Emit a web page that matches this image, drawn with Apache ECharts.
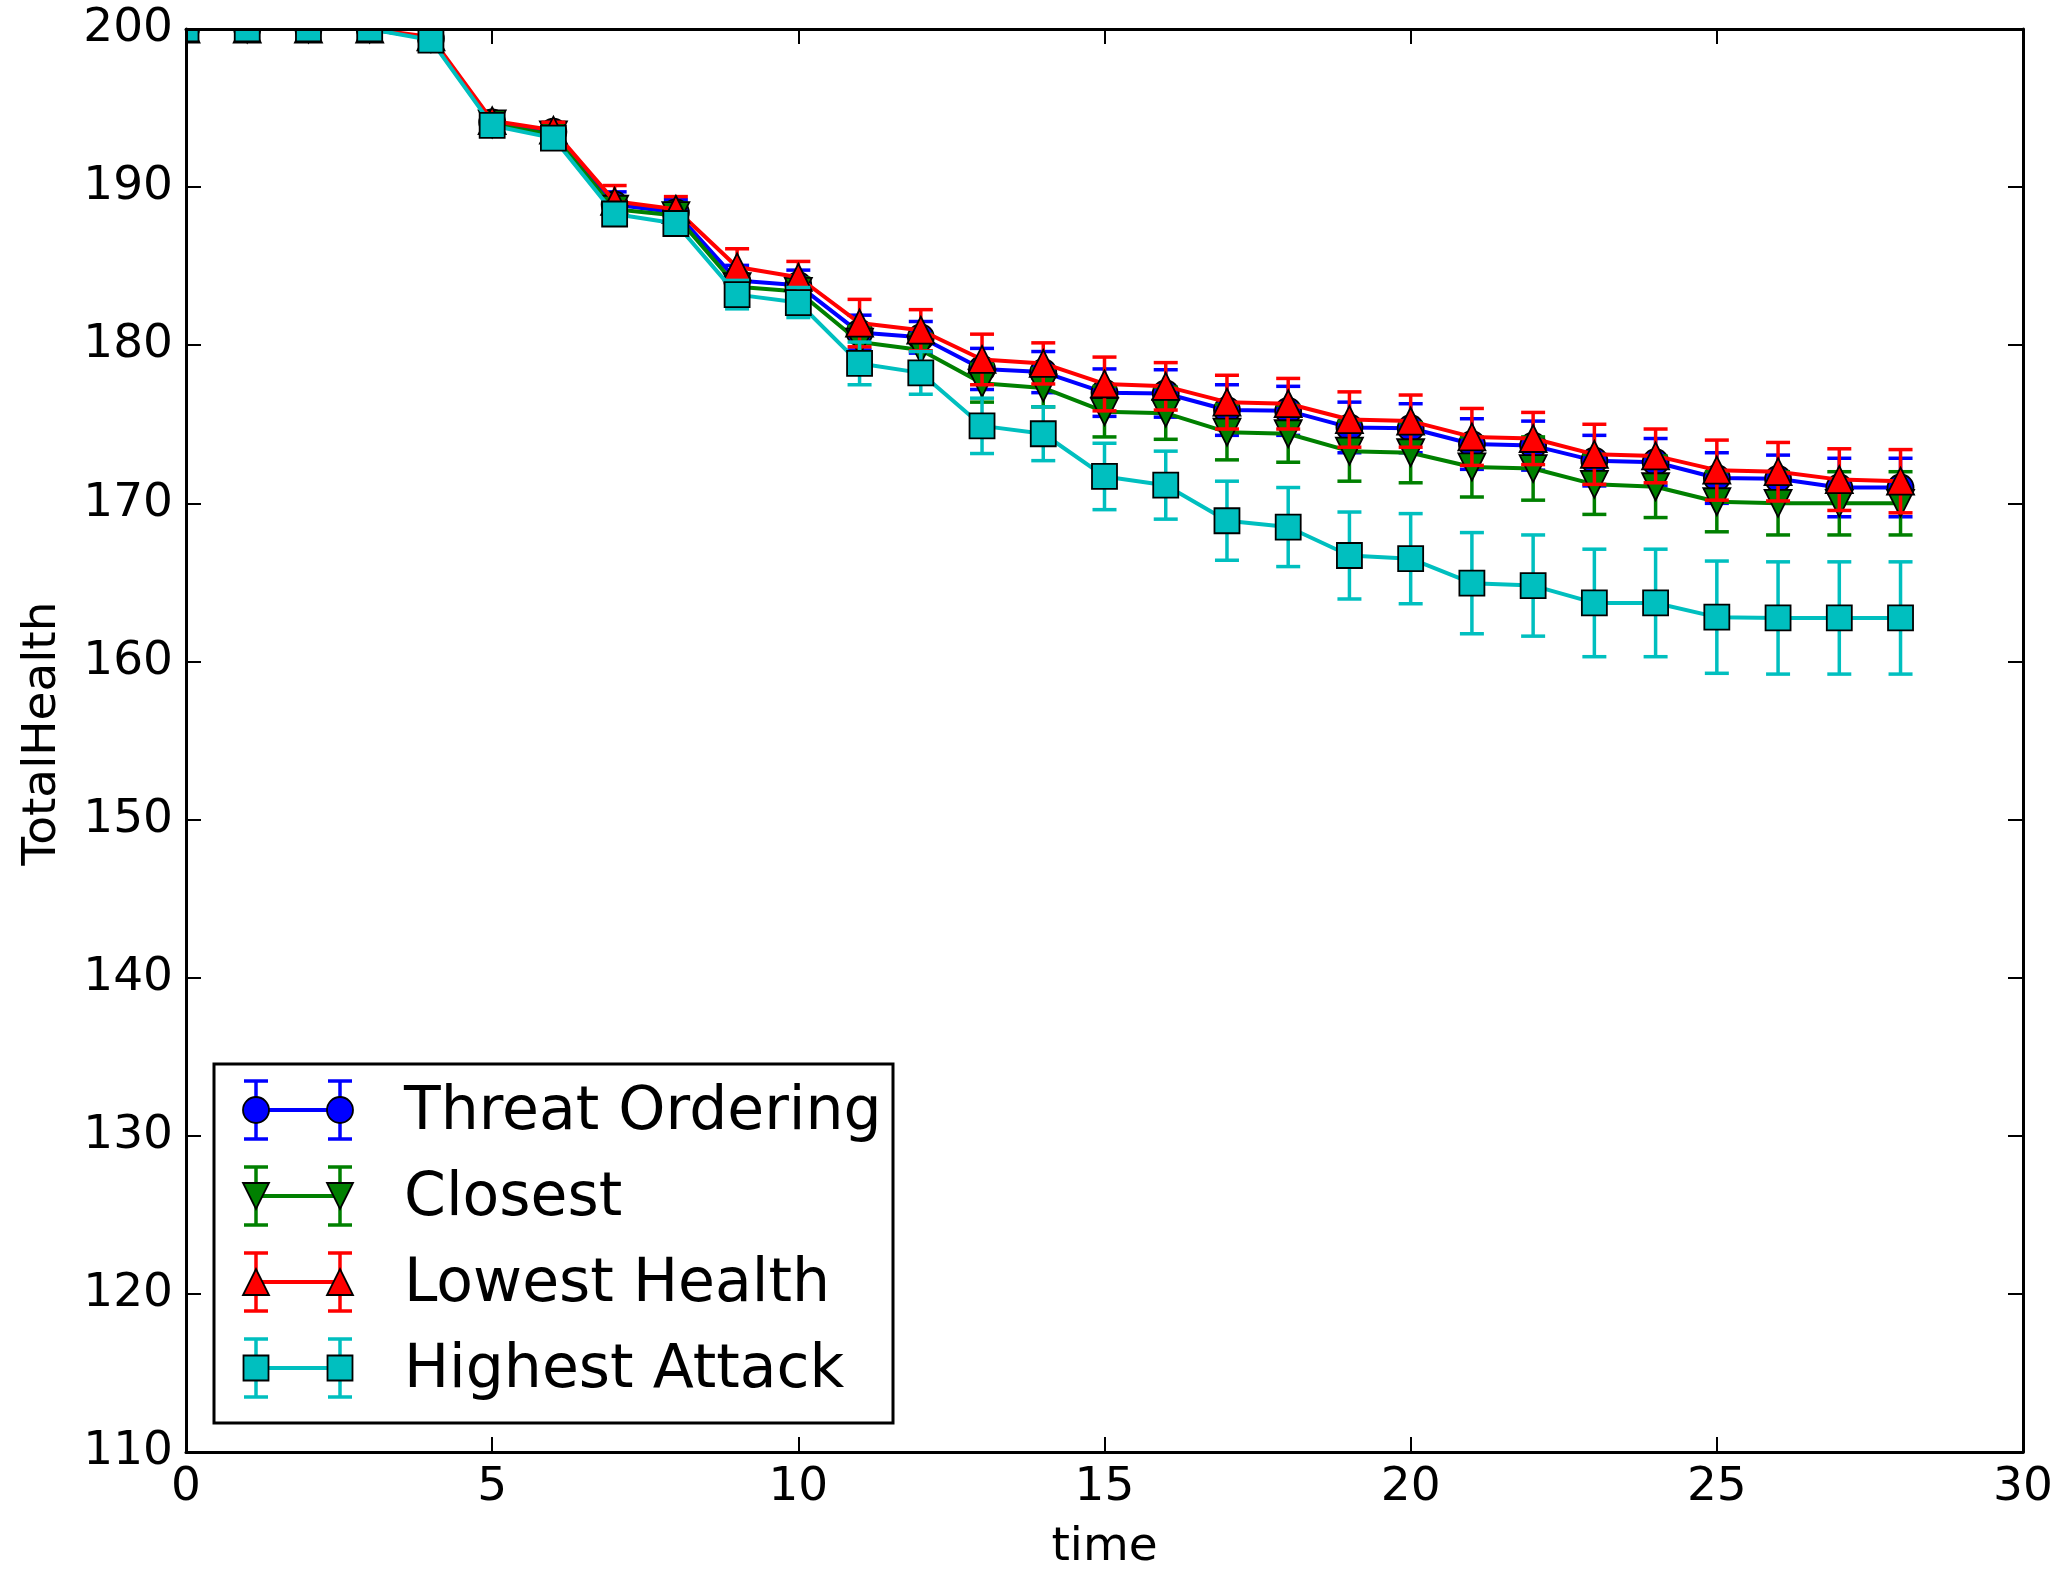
<!DOCTYPE html>
<html>
<head>
<meta charset="utf-8">
<script src="https://cdn.jsdelivr.net/npm/echarts@6/dist/echarts.min.js"></script>
<style>
html, body { margin: 0; padding: 0; background: #fff; }
#chart { width: 2072px; height: 1572px; }
</style>
</head>
<body>
<div id="chart"></div>
<script>
const time = [0, 1, 2, 3, 4, 5, 6, 7, 8, 9, 10, 11, 12, 13, 14, 15, 16, 17, 18, 19, 20, 21, 22, 23, 24, 25, 26, 27, 28]

const threatOrdering = [200, 200, 200, 200, 199.4, 194.1, 193.5, 188.9, 188.4, 184.1, 183.8, 180.8, 180.5, 178.5, 178.3, 177.0, 176.95, 175.9, 175.85, 174.8, 174.75, 173.75, 173.65, 172.7, 172.6, 171.6, 171.55, 171.0, 171.0]
const threatOrderingErr = [0, 0, 0, 0, 0.2, 0.4, 0.4, 0.8, 0.8, 0.95, 0.95, 1.1, 1.0, 1.3, 1.3, 1.5, 1.5, 1.6, 1.55, 1.6, 1.55, 1.6, 1.55, 1.6, 1.5, 1.6, 1.5, 1.85, 1.85]

const closest = [200, 200, 200, 200, 199.4, 194.0, 193.3, 188.6, 188.2, 183.7, 183.4, 180.2, 179.7, 177.6, 177.3, 175.8, 175.7, 174.5, 174.4, 173.3, 173.2, 172.3, 172.2, 171.2, 171.05, 170.1, 170.0, 170.0, 170.0]
const closestErr = [0, 0, 0, 0, 0.2, 0.4, 0.4, 0.8, 0.8, 0.8, 0.85, 1.0, 1.0, 1.2, 1.2, 1.6, 1.65, 1.75, 1.8, 1.9, 1.9, 1.9, 2.0, 1.9, 1.95, 1.9, 2.0, 2.0, 2.0]

const lowestHealth = [200, 200, 200, 200, 199.5, 194.2, 193.6, 189.1, 188.6, 184.95, 184.3, 181.4, 180.95, 179.1, 178.85, 177.55, 177.4, 176.4, 176.3, 175.3, 175.2, 174.2, 174.1, 173.1, 173.0, 172.1, 172.0, 171.5, 171.4]
const lowestHealthErr = [0, 0, 0, 0, 0.2, 0.4, 0.5, 1.0, 0.8, 1.15, 1.0, 1.5, 1.3, 1.6, 1.3, 1.7, 1.5, 1.7, 1.6, 1.75, 1.65, 1.8, 1.65, 1.9, 1.7, 1.9, 1.85, 1.95, 2.0]

const highestAttack = [200, 200, 200, 200, 199.3, 193.9, 193.1, 188.3, 187.7, 183.2, 182.7, 178.85, 178.25, 174.9, 174.4, 171.7, 171.15, 168.9, 168.5, 166.7, 166.5, 164.95, 164.8, 163.7, 163.7, 162.8, 162.75, 162.75, 162.75]
const highestAttackErr = [0, 0, 0, 0, 0.2, 0.3, 0.4, 0.5, 0.5, 0.9, 0.95, 1.35, 1.35, 1.75, 1.7, 2.1, 2.15, 2.5, 2.5, 2.75, 2.85, 3.2, 3.2, 3.4, 3.4, 3.55, 3.55, 3.55, 3.55]

const xTicks = { min: 0, max: 30, interval: 5 }
const yTicks = { min: 110, max: 200, interval: 10 }

const FONT = 'DejaVu Sans'
const capHalf = 12

const seriesList = [
    { name: 'Threat Ordering', color: '#0000ff', symbol: 'circle', size: 26, rotate: 0, vals: threatOrdering, errs: threatOrderingErr },
    { name: 'Closest', color: '#008000', symbol: 'triangle', size: 27, rotate: 180, vals: closest, errs: closestErr },
    { name: 'Lowest Health', color: '#ff0000', symbol: 'triangle', size: 27, rotate: 0, vals: lowestHealth, errs: lowestHealthErr },
    { name: 'Highest Attack', color: '#00bfbf', symbol: 'rect', size: 25, rotate: 0, vals: highestAttack, errs: highestAttackErr }
]

const errorBars = (color) => (params, api) => {
    const top = api.coord([api.value(0), api.value(2)])
    const bot = api.coord([api.value(0), api.value(1)])
    const style = { stroke: color, lineWidth: 3.5 }
    return {
        type: 'group',
        children: [
            { type: 'line', shape: { x1: top[0], y1: top[1], x2: bot[0], y2: bot[1] }, style },
            { type: 'line', shape: { x1: top[0] - capHalf, y1: top[1], x2: top[0] + capHalf, y2: top[1] }, style },
            { type: 'line', shape: { x1: bot[0] - capHalf, y1: bot[1], x2: bot[0] + capHalf, y2: bot[1] }, style }
        ]
    }
}

const series = []
seriesList.forEach((s, k) => {
    series.push({
        name: s.name + ' err',
        type: 'custom',
        z: 2 + k * 2,
        renderItem: errorBars(s.color),
        data: time.map((t, i) => [t, s.vals[i] - s.errs[i], s.vals[i] + s.errs[i]]),
        encode: { x: 0, y: [1, 2] },
        silent: true
    })
    series.push({
        name: s.name,
        type: 'line',
        z: 3 + k * 2,
        data: time.map((t, i) => [t, s.vals[i]]),
        symbol: s.symbol,
        symbolSize: s.size,
        symbolRotate: s.rotate,
        showAllSymbol: true,
        lineStyle: { color: s.color, width: 4 },
        itemStyle: { color: s.color, borderColor: '#000', borderWidth: 1.8 },
        silent: true
    })
})

// legend drawn as graphics, matplotlib style
const legend = [{
    type: 'rect', z: 40,
    shape: { x: 214, y: 1064, width: 679, height: 359 },
    style: { fill: '#fff', stroke: '#000', lineWidth: 3 }
}]
const rowY = [1110, 1196, 1282, 1368]
const mx = [256, 340]
seriesList.forEach((s, k) => {
    const y = rowY[k]
    const st = { stroke: s.color, lineWidth: 3.5 }
    legend.push({ type: 'line', z: 41, shape: { x1: mx[0], y1: y, x2: mx[1], y2: y }, style: { stroke: s.color, lineWidth: 4 } })
    mx.forEach(x => {
        legend.push({ type: 'line', z: 41, shape: { x1: x, y1: y - 29, x2: x, y2: y + 29 }, style: st })
        legend.push({ type: 'line', z: 41, shape: { x1: x - capHalf, y1: y - 29, x2: x + capHalf, y2: y - 29 }, style: st })
        legend.push({ type: 'line', z: 41, shape: { x1: x - capHalf, y1: y + 29, x2: x + capHalf, y2: y + 29 }, style: st })
        const ms = { fill: s.color, stroke: '#000', lineWidth: 1.8 }
        const h = 13
        if (s.symbol === 'circle') {
            legend.push({ type: 'circle', z: 42, shape: { cx: x, cy: y, r: h }, style: ms })
        } else if (s.symbol === 'rect') {
            legend.push({ type: 'rect', z: 42, shape: { x: x - 12.5, y: y - 12.5, width: 25, height: 25 }, style: ms })
        } else if (s.rotate === 180) {
            legend.push({ type: 'polygon', z: 42, shape: { points: [[x - h, y - h], [x + h, y - h], [x, y + h]] }, style: ms })
        } else {
            legend.push({ type: 'polygon', z: 42, shape: { points: [[x - h, y + h], [x + h, y + h], [x, y - h]] }, style: ms })
        }
    })
    legend.push({
        type: 'text', z: 42, x: 404, y: y + 3,
        style: { text: s.name, font: '60px "' + FONT + '"', fill: '#000', verticalAlign: 'middle', align: 'left' }
    })
})

// white masks so markers sitting on the border are half clipped
const masks = [
    { type: 'rect', z: 20, shape: { x: 0, y: 0, width: 2072, height: 28 }, style: { fill: '#fff' } },
    { type: 'rect', z: 20, shape: { x: 0, y: 0, width: 185, height: 1572 }, style: { fill: '#fff' } }
]

const axisLine = { show: true, onZero: false, lineStyle: { color: '#000', width: 3 } }
const axisTick = { show: true, inside: true, length: 15, lineStyle: { color: '#000', width: 2 } }

const option = {
    animation: false,
    backgroundColor: '#fff',
    grid: { left: 186, right: 49, top: 29, bottom: 120, containLabel: false, outerBoundsMode: 'none' },
    xAxis: [{
        type: 'value', ...xTicks, z: 30,
        name: 'time', nameLocation: 'middle', nameGap: 72,
        nameTextStyle: { fontFamily: FONT, fontSize: 47, color: '#000' },
        axisLine, axisTick, splitLine: { show: false },
        axisLabel: { fontFamily: FONT, fontSize: 47, color: '#000', margin: 12 }
    }, {
        type: 'value', ...xTicks, position: 'top', z: 30,
        axisLine, axisTick, splitLine: { show: false }, axisLabel: { show: false }
    }],
    yAxis: [{
        type: 'value', ...yTicks, z: 30,
        name: 'TotalHealth', nameLocation: 'middle', nameGap: 120,
        nameTextStyle: { fontFamily: FONT, fontSize: 47, color: '#000', padding: [0, 0, 0, 14] },
        axisLine, axisTick, splitLine: { show: false },
        axisLabel: { fontFamily: FONT, fontSize: 47, color: '#000', margin: 13 }
    }, {
        type: 'value', ...yTicks, position: 'right', z: 30,
        axisLine, axisTick, splitLine: { show: false }, axisLabel: { show: false }
    }],
    graphic: masks.concat(legend),
    series
}

const myChart = echarts.init(document.getElementById('chart'))
myChart.setOption(option)
</script>
</body>
</html>
